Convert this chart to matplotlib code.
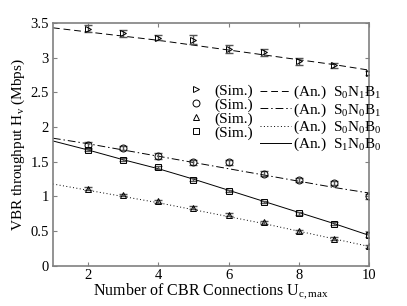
import matplotlib

matplotlib.use("Agg")
import matplotlib.pyplot as plt
from matplotlib.lines import Line2D

# ── Style ─────────────────────────────────────────────────────────────────────
plt.rcParams.update(
    {
        "font.family": "Liberation Serif",
        "mathtext.fontset": "custom",
        "mathtext.rm": "Liberation Serif",
        "mathtext.it": "Liberation Serif",
        "font.size": 9,
    }
)

# ── Data ──────────────────────────────────────────────────────────────────────
x_sim = [2, 3, 4, 5, 6, 7, 8, 9, 10]
x_an = [1, 2, 3, 4, 5, 6, 7, 8, 9, 10]

sim_s0n1b1 = [3.42, 3.35, 3.29, 3.26, 3.12, 3.08, 2.95, 2.89, 2.78]
err_s0n1b1 = [0.05, 0.05, 0.04, 0.06, 0.06, 0.05, 0.05, 0.04, 0.03]
an_s0n1b1 = [3.43, 3.37, 3.31, 3.25, 3.18, 3.11, 3.04, 2.97, 2.90, 2.82]

sim_s0n0b1 = [1.74, 1.70, 1.58, 1.49, 1.49, 1.33, 1.24, 1.19, 1.00]
err_s0n0b1 = [0.04, 0.03, 0.04, 0.03, 0.04, 0.04, 0.03, 0.03, 0.03]
an_s0n0b1 = [1.84, 1.76, 1.67, 1.58, 1.49, 1.40, 1.31, 1.22, 1.13, 1.05]

sim_s0n0b0 = [1.11, 1.02, 0.93, 0.84, 0.74, 0.63, 0.50, 0.39, 0.28]
err_s0n0b0 = [0.02, 0.02, 0.02, 0.02, 0.02, 0.02, 0.02, 0.02, 0.02]
an_s0n0b0 = [1.18, 1.09, 1.00, 0.91, 0.81, 0.71, 0.61, 0.50, 0.39, 0.28]

sim_s1n0b0 = [1.67, 1.53, 1.42, 1.24, 1.08, 0.92, 0.76, 0.61, 0.44]
err_s1n0b0 = [0.02, 0.02, 0.02, 0.02, 0.02, 0.02, 0.02, 0.02, 0.03]
an_s1n0b0 = [1.80, 1.67, 1.53, 1.40, 1.25, 1.09, 0.93, 0.77, 0.61, 0.44]

series = [
    (sim_s0n1b1, err_s0n1b1, an_s0n1b1, ">", (0, (7, 4)), r"S$_0$N$_1$B$_1$"),
    (sim_s0n0b1, err_s0n0b1, an_s0n0b1, "o", (0, (8, 3, 1.5, 3)), r"S$_0$N$_0$B$_1$"),
    (sim_s0n0b0, err_s0n0b0, an_s0n0b0, "^", (0, (1, 2.5)), r"S$_0$N$_0$B$_0$"),
    (sim_s1n0b0, err_s1n0b0, an_s1n0b0, "s", "-", r"S$_1$N$_0$B$_0$"),
]

# ── Plot ──────────────────────────────────────────────────────────────────────
fig = plt.figure(figsize=(4.07, 3.06), dpi=100)
ax = fig.add_axes([0.130, 0.131, 0.777, 0.794])

sim_handles, an_handles, an_labels = [], [], []
for sim, err, an, mk, ls, name in series:
    ax.plot(x_an, an, color="black", linestyle=ls, linewidth=0.7)
    ax.errorbar(
        x_sim, sim, yerr=err, fmt="none", ecolor="#555555",
        elinewidth=1.0, capsize=3, capthick=1.0,
    )
    ax.plot(x_sim, sim, linestyle="none", marker=mk, markersize=5,
            markerfacecolor="none", markeredgecolor="black", markeredgewidth=0.7)
    sim_handles.append(Line2D([], [], linestyle="none", marker=mk, markersize=5,
                              markerfacecolor="none", markeredgecolor="black",
                              markeredgewidth=0.7))
    an_handles.append(Line2D([], [], color="black", linestyle=ls, linewidth=0.7))
    an_labels.append("(An.)  " + name)

ax.set_xlim(1, 10)
ax.set_ylim(0, 3.5)
ax.set_xticks([2, 4, 6, 8, 10])
ax.set_yticks([0, 0.5, 1, 1.5, 2, 2.5, 3, 3.5])
ax.set_yticklabels(["0", "0.5", "1", "1.5", "2", "2.5", "3", "3.5"])
ax.tick_params(direction="in", top=True, right=True, length=3, color="#808080",
               labelsize=10.5, pad=3)
ax.tick_params(axis="x", pad=2)
for sp in ax.spines.values():
    sp.set_color("#808080")
    sp.set_linewidth(1.2)

ax.set_xlabel(r"Number of CBR Connections U$_{\mathrm{c,max}}$", fontsize=11.5,
              labelpad=0)
ax.set_ylabel(r"VBR throughput H$_{\mathrm{v}}$ (Mbps)", fontsize=11, labelpad=2)

leg1 = ax.legend(sim_handles, ["(Sim.)"] * 4, loc="upper left",
                 bbox_to_anchor=(0.41, 0.78), frameon=False, fontsize=11,
                 handlelength=0.8, handletextpad=0.8, labelspacing=0.0,
                 borderpad=0)
ax.add_artist(leg1)
ax.legend(an_handles, an_labels, loc="upper left", bbox_to_anchor=(0.632, 0.78),
          frameon=False, fontsize=11, handlelength=2.0, handletextpad=0.15,
          labelspacing=0.0, borderpad=0)

fig.savefig("out.png", dpi=100)
